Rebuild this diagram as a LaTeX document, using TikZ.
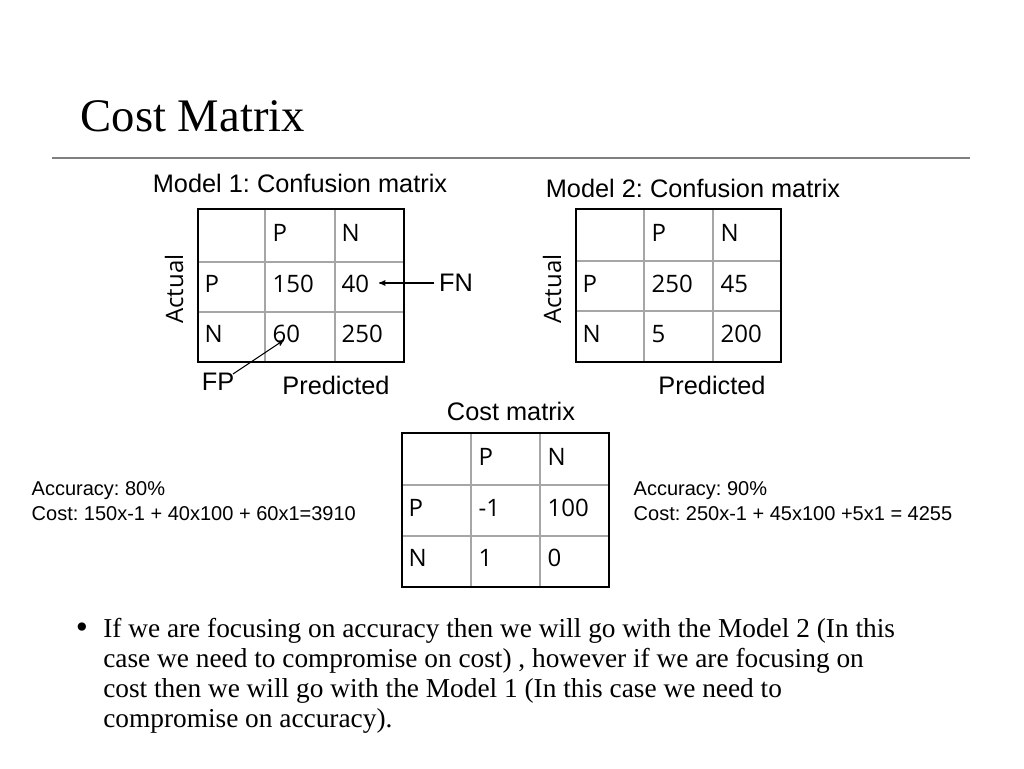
\documentclass[tikz,border=0pt]{standalone}
\usepackage{fontspec}
\setmainfont{Liberation Serif}
\newfontfamily\arial{Liberation Sans}
\newfontfamily\cellfont{Open Sans}
\usetikzlibrary{positioning,arrows}
\tikzset{
  cell/.style={font=\cellfont\fontsize{18}{20}\selectfont,anchor=west},
  lbl/.style={font=\arial\fontsize{19}{22}\selectfont},
  note/.style={font=\arial\fontsize{15}{19}\selectfont,align=left,anchor=west},
  grid line/.style={draw=gray!70,line width=0.8pt},
  frame/.style={draw=black,line width=2pt}
}
% table: #1 name, #2 x0, #3 x1, #4 x2, #5 x3, #6 y0, #7 y1, #8 y2, #9 y3
\newcommand{\cmtable}[9]{%
  \draw[grid line] (#3,#6) -- (#3,#9) (#4,#6) -- (#4,#9) (#2,#7) -- (#5,#7) (#2,#8) -- (#5,#8);
  \draw[frame] (#2,#6) rectangle (#5,#9);
  \coordinate (#1-a) at (#2,#6);
}
\begin{document}
\frenchspacing
\begin{tikzpicture}[x=0.75pt,y=-0.75pt]
  \useasboundingbox (0,0) rectangle (1024,768);

  \node[anchor=west,font=\fontsize{35}{40}\selectfont] (title) at (76,116) {Cost Matrix};
  \draw[gray,line width=1.2pt] (52,158) -- (970,158);

  % model 1
  \node[lbl] (m1) at (300,183) {Model 1: Confusion matrix};
  \cmtable{t1}{198}{265}{335}{404}{209}{262}{312}{362}
  \node[cell] (t1p) at (268,233) {P};
  \node[cell] (t1n) at (337,233) {N};
  \node[cell] (t1r1) at (200,284) {P};
  \node[cell] (t1r2) at (200,334) {N};
  \node[cell] (t1a) at (268,284) {150};
  \node[cell] (t1b) at (337,284) {40};
  \node[cell] (t1c) at (268,334) {60};
  \node[cell] (t1d) at (337,334) {250};
  \node[cell,anchor=center,rotate=90] (act1) at (174,289) {Actual};
  \node[lbl] (pr1) at (336,385) {Predicted};
  \node[lbl] (fn) at (456,283) {FN};
  \node[lbl] (fp) at (218,382) {FP};
  \coordinate (fnend) at (379,283);
  \coordinate (fpend) at (284,340);
  \draw[->,>=stealth',thick] (fn.west) -- (fnend);
  \draw[->,>=stealth',thick] (233,374) -- (fpend);

  % model 2
  \node[lbl] (m2) at (693,188) {Model 2: Confusion matrix};
  \cmtable{t2}{576}{644}{713}{781}{209}{261}{311}{362}
  \node[cell] (t2p) at (647,233) {P};
  \node[cell] (t2n) at (716,233) {N};
  \node[cell] (t2r1) at (578,284) {P};
  \node[cell] (t2r2) at (578,334) {N};
  \node[cell] (t2a) at (647,284) {250};
  \node[cell] (t2b) at (716,284) {45};
  \node[cell] (t2c) at (647,334) {5};
  \node[cell] (t2d) at (716,334) {200};
  \node[cell,anchor=center,rotate=90] (act2) at (552,289) {Actual};
  \node[lbl] (pr2) at (712,385) {Predicted};

  % cost matrix
  \node[lbl] (cm) at (511,411) {Cost matrix};
  \cmtable{t3}{402}{471}{540}{609}{433}{485}{536}{587}
  \node[cell] (t3p) at (474,457) {P};
  \node[cell] (t3n) at (543,457) {N};
  \node[cell] (t3r1) at (404,508) {P};
  \node[cell] (t3r2) at (404,558) {N};
  \node[cell] (t3a) at (474,508) {-1};
  \node[cell] (t3b) at (543,508) {100};
  \node[cell] (t3c) at (474,558) {1};
  \node[cell] (t3d) at (543,558) {0};

  \node[note] (acc1) at (27,501) {Accuracy: 80\%\\Cost: 150x-1 + 40x100 + 60x1=3910};
  \node[note] (acc2) at (629,501) {Accuracy: 90\%\\Cost: 250x-1 + 45x100 +5x1 = 4255};

  \node[anchor=north west,align=left,font=\fontsize{20.5}{22.5}\selectfont,inner sep=0pt] (txt) at (103,618)
    {If we are focusing on accuracy then we will go with the Model 2 (In this\\
     case we need to compromise on cost) , however if we are focusing on\\
     cost then we will go with the Model 1 (In this case we need to\\
     compromise on accuracy).};
  \node[font=\fontsize{26}{26}\selectfont] (dot) at (82,631) {\textbullet};
\end{tikzpicture}
\end{document}
